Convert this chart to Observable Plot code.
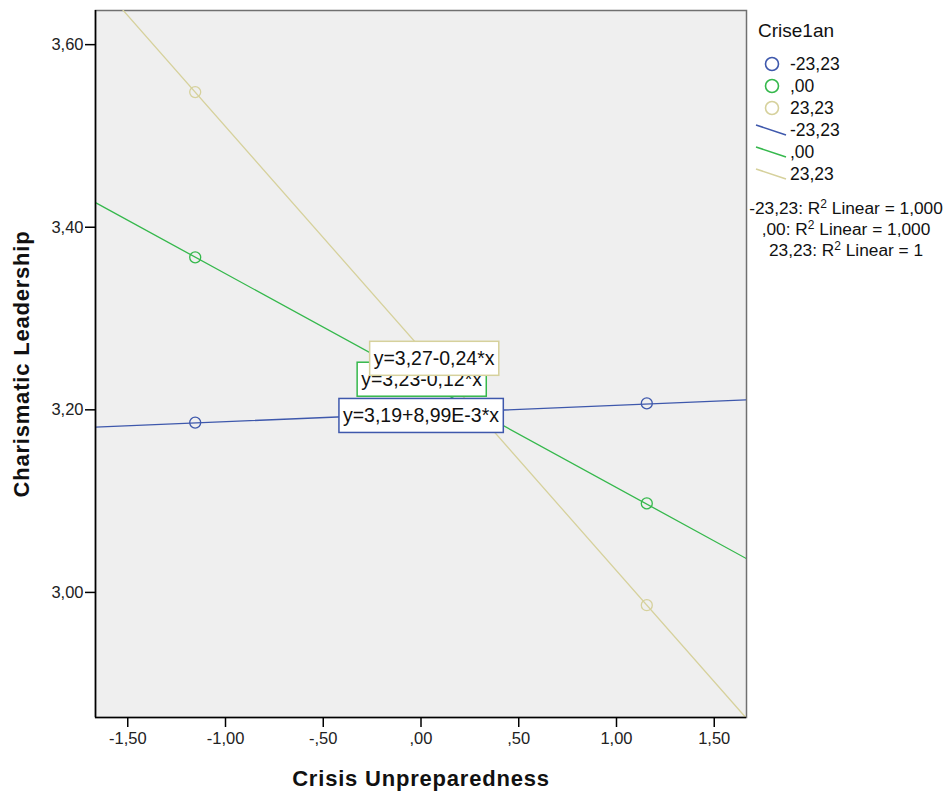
<!DOCTYPE html>
<html><head><meta charset="utf-8">
<script src="https://cdn.jsdelivr.net/npm/d3@7"></script>
<script src="https://cdn.jsdelivr.net/npm/@observablehq/plot@0.6"></script>
<style>
body{margin:0;background:#fff;font-family:"Liberation Sans",Arial,sans-serif}
#chart{position:relative;width:948px;height:796px}
</style>
</head><body><div id="chart"></div>
<script>
// ---- data ----
const groups = ["-23,23", ",00", "23,23"];
const colors = ["#3E58AC", "#35B84C", "#D6D19C"];
const pointX = [-1.155, 1.155];
const pointYBlue = [3.186, 3.207];
const pointYGreen = [3.367, 3.0975];
const pointYTan = [3.548, 2.986];
const lineX = [-1.665, 1.665];
const lineYBlue = [3.181, 3.211];
const lineYGreen = [3.427, 3.037];
const lineYTan = [3.672, 2.862];
const equations = ["y=3,19+8,99E-3*x", "y=3,23-0,12*x", "y=3,27-0,24*x"];
const eqX = [0.0, 0.003, 0.067];
const eqY = [3.193, 3.2327, 3.2556];
const rSquaredValues = ["1,000", "1,000", "1"];
const xTicks = [-1.5, -1, -0.5, 0, 0.5, 1, 1.5];
const xTickLabels = ["-1,50", "-1,00", "-,50", ",00", ",50", "1,00", "1,50"];
const yTicks = [3.0, 3.2, 3.4, 3.6];
const yTickLabels = ["3,00", "3,20", "3,40", "3,60"];
const yDomain = [2.863, 3.6374];
const legendTitle = "Crise1an";
const xLabel = "Crisis Unpreparedness";
const yLabel = "Charismatic Leadership";

const pointYs = [pointYBlue, pointYGreen, pointYTan];
const lineYs = [lineYBlue, lineYGreen, lineYTan];
const points = groups.flatMap((g, i) => pointX.map((x, j) => ({g, x, y: pointYs[i][j]})));
const lines = groups.flatMap((g, i) => lineX.map((x, j) => ({g, x, y: lineYs[i][j]})));
const eqOrder = [1, 0, 2];
const eqData = eqOrder.map(i => ({g: groups[i], x: eqX[i], y: eqY[i], t: equations[i], c: colors[i]}));

const FONT = "'Liberation Sans', Arial, sans-serif";
const plot = Plot.plot({
  width: 948, height: 796,
  marginLeft: 95, marginTop: 10, marginRight: 202, marginBottom: 79,
  style: {fontFamily: FONT, fontSize: "16.5px", color: "#222", background: "transparent", overflow: "visible"},
  x: {domain: lineX},
  y: {domain: yDomain},
  color: {domain: groups, range: colors},
  marks: [
    Plot.frame({fill: "#efefef", stroke: "#707070", strokeWidth: 1.5}),
    Plot.line(lines, {x: "x", y: "y", z: "g", stroke: "g", strokeWidth: 1.3, clip: true}),
    Plot.dot(points, {x: "x", y: "y", stroke: "g", r: 5.5, strokeWidth: 1.3}),
    Plot.ruleX([lineX[0]], {stroke: "#000", strokeWidth: 1.6}),
    Plot.ruleY([yDomain[0]], {stroke: "#000", strokeWidth: 1.6}),
    Plot.axisX({ticks: xTicks, tickFormat: d => xTickLabels[xTicks.indexOf(d)], tickSize: 10, tickPadding: 5,
      stroke: "#000", strokeWidth: 1.5, fill: "#222", label: xLabel, labelAnchor: "center", labelArrow: "none", labelOffset: 68}),
    Plot.axisY({ticks: yTicks, tickFormat: d => yTickLabels[yTicks.indexOf(d)], tickSize: 10, tickPadding: 2,
      stroke: "#000", strokeWidth: 1.5, fill: "#222", label: yLabel, labelAnchor: "center", labelArrow: "none", labelOffset: 82}),
    ...eqData.map(d => Plot.text([d], {x: "x", y: "y", text: "t", fill: "#111", fontSize: 19.5}))
  ]
});
document.getElementById("chart").appendChild(plot);

const svg = d3.select(plot);
// axis label styling
svg.selectAll('g[aria-label="x-axis label"] text, g[aria-label="y-axis label"] text')
  .attr("font-weight", "bold").attr("font-size", 22).attr("letter-spacing", "0.8px").attr("fill", "#111");

// boxes behind equation labels
svg.selectAll('g[aria-label="text"]').each(function(_, k) {
  const g = d3.select(this);
  const t = g.select("text");
  const bb = t.node().getBBox();
  g.insert("rect", "text")
    .attr("transform", t.attr("transform"))
    .attr("x", bb.x - 4).attr("y", bb.y - 6)
    .attr("width", bb.width + 8).attr("height", bb.height + 12)
    .attr("fill", "#fff").attr("stroke", eqData[k].c).attr("stroke-width", 1.5);
});

// legend
const lg = svg.append("g").attr("font-family", FONT).attr("fill", "#111").attr("text-anchor", "start");
lg.append("text").attr("x", 758).attr("y", 37).attr("font-size", 19).attr("text-anchor", "start").text(legendTitle);
groups.forEach((g, i) => {
  const cy = 64 + i * 22;
  lg.append("circle").attr("cx", 772).attr("cy", cy).attr("r", 6.5)
    .attr("fill", "none").attr("stroke", colors[i]).attr("stroke-width", 1.6);
  lg.append("text").attr("x", 790).attr("y", cy + 6).attr("font-size", 17.5).attr("text-anchor", "start").text(g);
});
groups.forEach((g, i) => {
  const cy = 130 + i * 22;
  lg.append("line").attr("x1", 756).attr("y1", cy - 5).attr("x2", 786).attr("y2", cy + 5)
    .attr("stroke", colors[i]).attr("stroke-width", 1.6);
  lg.append("text").attr("x", 790).attr("y", cy + 6).attr("font-size", 17.5).attr("text-anchor", "start").text(g);
});
groups.forEach((g, i) => {
  const y = 214 + i * 21;
  const t = lg.append("text").attr("x", 846).attr("y", y).attr("font-size", 17.3).attr("text-anchor", "middle");
  t.append("tspan").text(g + ": R");
  t.append("tspan").attr("font-size", 12).attr("dy", -6).text("2");
  t.append("tspan").attr("dy", 6).text(" Linear = " + rSquaredValues[i]);
});
</script>
</body></html>
